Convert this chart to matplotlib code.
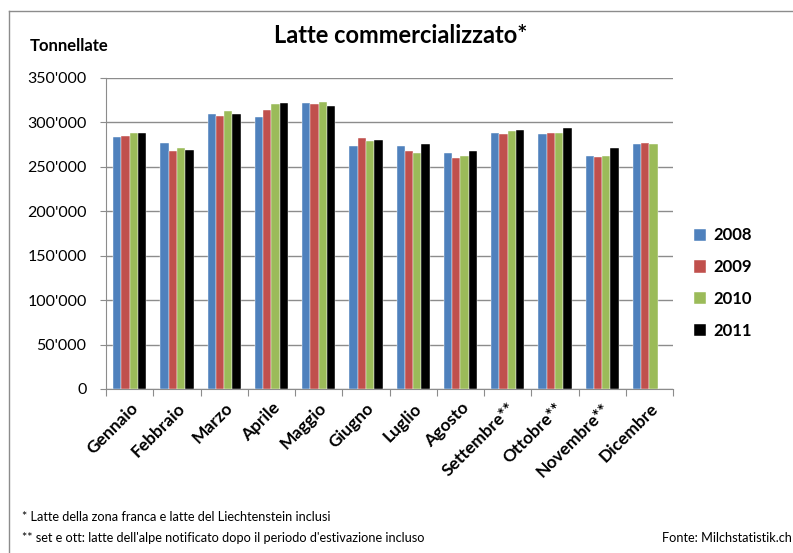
import matplotlib
matplotlib.use('Agg')
import matplotlib.pyplot as plt
import matplotlib.lines as mlines
import numpy as np

plt.rcParams['font.family'] = ['Lato', 'DejaVu Sans']

# ── 데이터 ──
months = ['Gennaio', 'Febbraio', 'Marzo', 'Aprile', 'Maggio', 'Giugno', 'Luglio',
          'Agosto', 'Settembre**', 'Ottobre**', 'Novembre**', 'Dicembre']
years = ['2008', '2009', '2010', '2011']
v2008 = [283600, 277200, 309500, 306100, 321900, 273800, 273800, 266000, 288500, 287000, 262600, 275700]
v2009 = [285000, 267800, 307600, 314000, 320700, 282100, 267800, 259600, 287000, 288500, 261100, 277200]
v2010 = [288500, 270800, 312500, 320700, 323300, 279100, 266000, 262600, 290400, 288500, 262600, 275700]
v2011 = [288500, 269000, 309500, 321900, 318800, 280200, 275700, 267800, 291500, 293400, 270800, None]
series = [v2008, v2009, v2010, v2011]
colors = ['#4F81BD', '#C0504D', '#9BBB59', '#000000']

fig = plt.figure(figsize=(7.93, 5.53), dpi=100)
ax = fig.add_axes([0.1337, 0.2966, 0.715, 0.5624])

x = np.arange(len(months))
w = 0.176
for k, (vals, c, lab) in enumerate(zip(series, colors, years)):
    xs = [xi for xi, v in zip(x, vals) if v is not None]
    ys = [v for v in vals if v is not None]
    ax.bar(np.array(xs) + (k - 1.5) * w, ys, w, color=c, label=lab, zorder=3,
           edgecolor='white', linewidth=0.3)

ax.set_xlim(-0.5, len(months) - 0.5)
ax.set_ylim(0, 350000)
ax.set_yticks(np.arange(0, 350001, 50000))
ax.set_yticklabels(['0'] + [f"{int(v/1000)}'000" for v in np.arange(50000, 350001, 50000)], fontsize=11.5)
ax.yaxis.grid(True, color='#8c8c8c', linewidth=1.0, zorder=0)
ax.set_axisbelow(True)

ax.set_xticks(np.arange(-0.5, len(months), 1.0))
ax.set_xticklabels([])
ax.set_xticks(x, minor=True)
ax.set_xticklabels(months, minor=True, rotation=45, ha='right', va='top',
                   fontsize=12.5, fontweight='bold', rotation_mode='anchor')
ax.tick_params(axis='x', which='minor', length=0, pad=8)
ax.tick_params(axis='x', which='major', length=5, color='#8c8c8c')
ax.tick_params(axis='y', length=4, color='#8c8c8c', pad=10)
for s in ['top', 'right']:
    ax.spines[s].set_visible(False)
for s in ['left', 'bottom']:
    ax.spines[s].set_color('#8c8c8c')

ax.legend(loc='center left', bbox_to_anchor=(1.01, 0.34), frameon=False,
          prop={'weight': 'bold', 'size': 12}, handlelength=0.75, handleheight=0.75,
          labelspacing=0.95, handletextpad=0.45)

fig.text(0.505, 0.935, 'Latte commercializzato*', ha='center', va='center',
         fontsize=17, fontweight='bold')
fig.text(0.038, 0.917, 'Tonnellate', ha='left', va='center', fontsize=12, fontweight='bold')
fig.text(0.028, 0.065, '* Latte della zona franca e latte del Liechtenstein inclusi',
         ha='left', va='center', fontsize=9.2)
fig.text(0.028, 0.028, "** set e ott: latte dell'alpe notificato dopo il periodo d'estivazione incluso",
         ha='left', va='center', fontsize=9.2)
fig.text(0.998, 0.028, 'Fonte: Milchstatistik.ch', ha='right', va='center', fontsize=9.2)

# bordo dell'area del grafico (solo sinistra e sopra visibili)
bx, by = 8.5 / 793, 1 - 10.5 / 553
fig.add_artist(mlines.Line2D([bx, bx], [0, by], transform=fig.transFigure, color='#8c8c8c', linewidth=1.0))
fig.add_artist(mlines.Line2D([bx, 1], [by, by], transform=fig.transFigure, color='#8c8c8c', linewidth=1.0))

fig.savefig('out.png', dpi=100, facecolor='white')
